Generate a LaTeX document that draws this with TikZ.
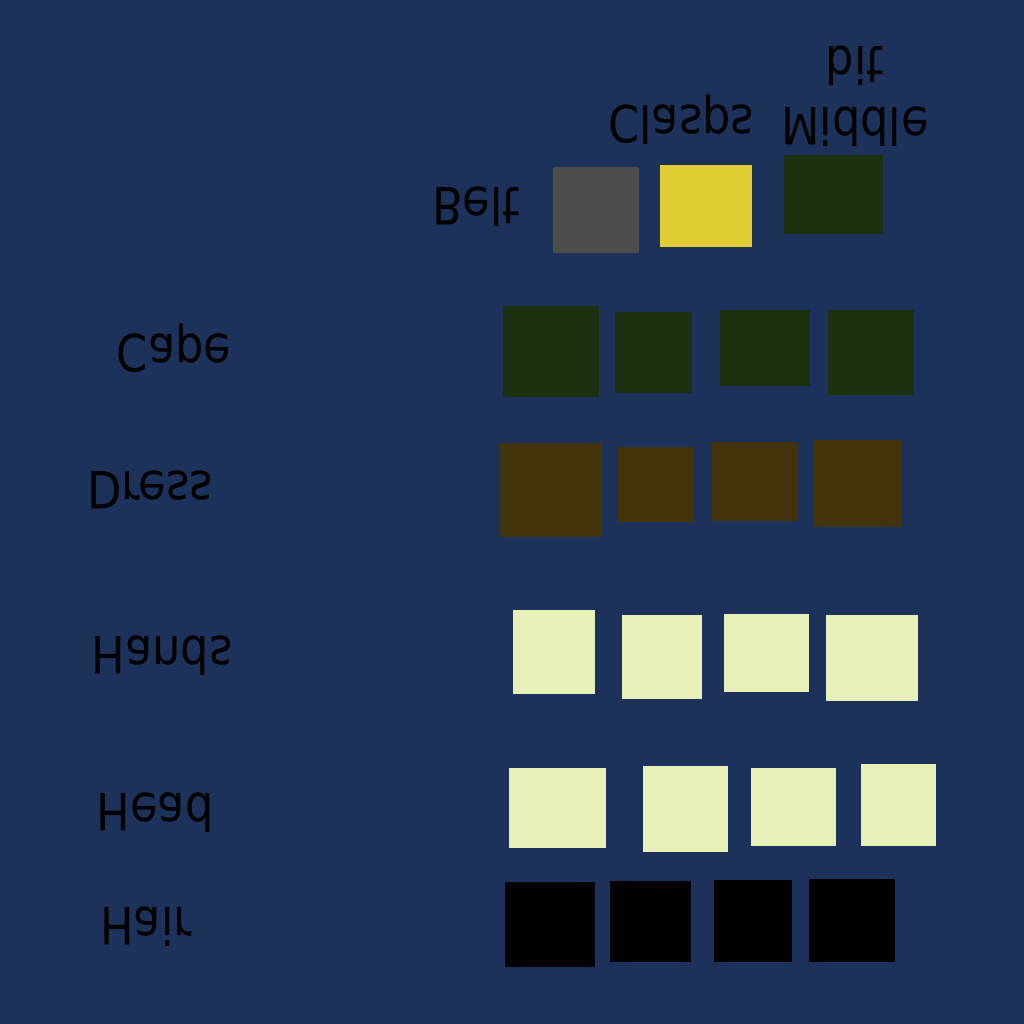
\documentclass[tikz,border=0pt]{standalone}
\usepackage{fontspec}
\setmainfont{DejaVu Sans}
\definecolor{bgblue}{RGB}{28,50,90}
\definecolor{beltgray}{RGB}{77,78,74}
\definecolor{claspyellow}{RGB}{224,204,51}
\definecolor{capegreen}{RGB}{28,49,14}
\definecolor{dressbrown}{RGB}{66,51,10}
\definecolor{skin}{RGB}{230,240,184}
\newcommand{\fliptxt}[1]{\scalebox{1}[-1.15]{#1}}
\begin{document}
\begin{tikzpicture}[x=0.1mm, y=-0.1mm, font=\fontsize{12.7}{15}\selectfont, lbl/.style={inner sep=0pt, text=black}]
\fill[bgblue] (0,0) rectangle (1024,1024);
\useasboundingbox (0,0) rectangle (1024,1024);
% swatches, one row per part
\foreach \a/\b/\c/\d/\col in {553/167/639/253/beltgray, 660/165/752/247/claspyellow, 784/155/883/234/capegreen,
  503/306/599/397/capegreen, 615/312/692/393/capegreen, 720/310/810/386/capegreen, 828/310/914/395/capegreen,
  500/443/602/537/dressbrown, 618/447/694/522/dressbrown, 712/442/797/521/dressbrown, 813/440/901/527/dressbrown,
  513/610/595/694/skin, 622/615/702/699/skin, 724/614/809/692/skin, 826/615/918/701/skin,
  509/768/606/848/skin, 643/766/728/852/skin, 751/768/836/846/skin, 861/764/936/846/skin,
  505/882/595/967/black, 610/881/691/962/black, 714/880/792/962/black, 809/879/895/962/black}
\fill[\col] (\a,\b) rectangle (\c,\d);
% labels
\foreach \p/\n/\t in {(476,207)/belt/Belt, (681,120)/clasps/Clasps, (174,348)/cape/Cape, (150,490)/dress/Dress,
  (162,656)/hands/Hands, (155,813)/head/Head, (146,927)/hair/Hair}
\node[lbl] (\n) at \p {\fliptxt{\t}};
\node[lbl] (middle) at (855,89) {\fliptxt{\begin{tabular}{@{}c@{}}Middle\\bit\end{tabular}}};
\end{tikzpicture}
\end{document}
